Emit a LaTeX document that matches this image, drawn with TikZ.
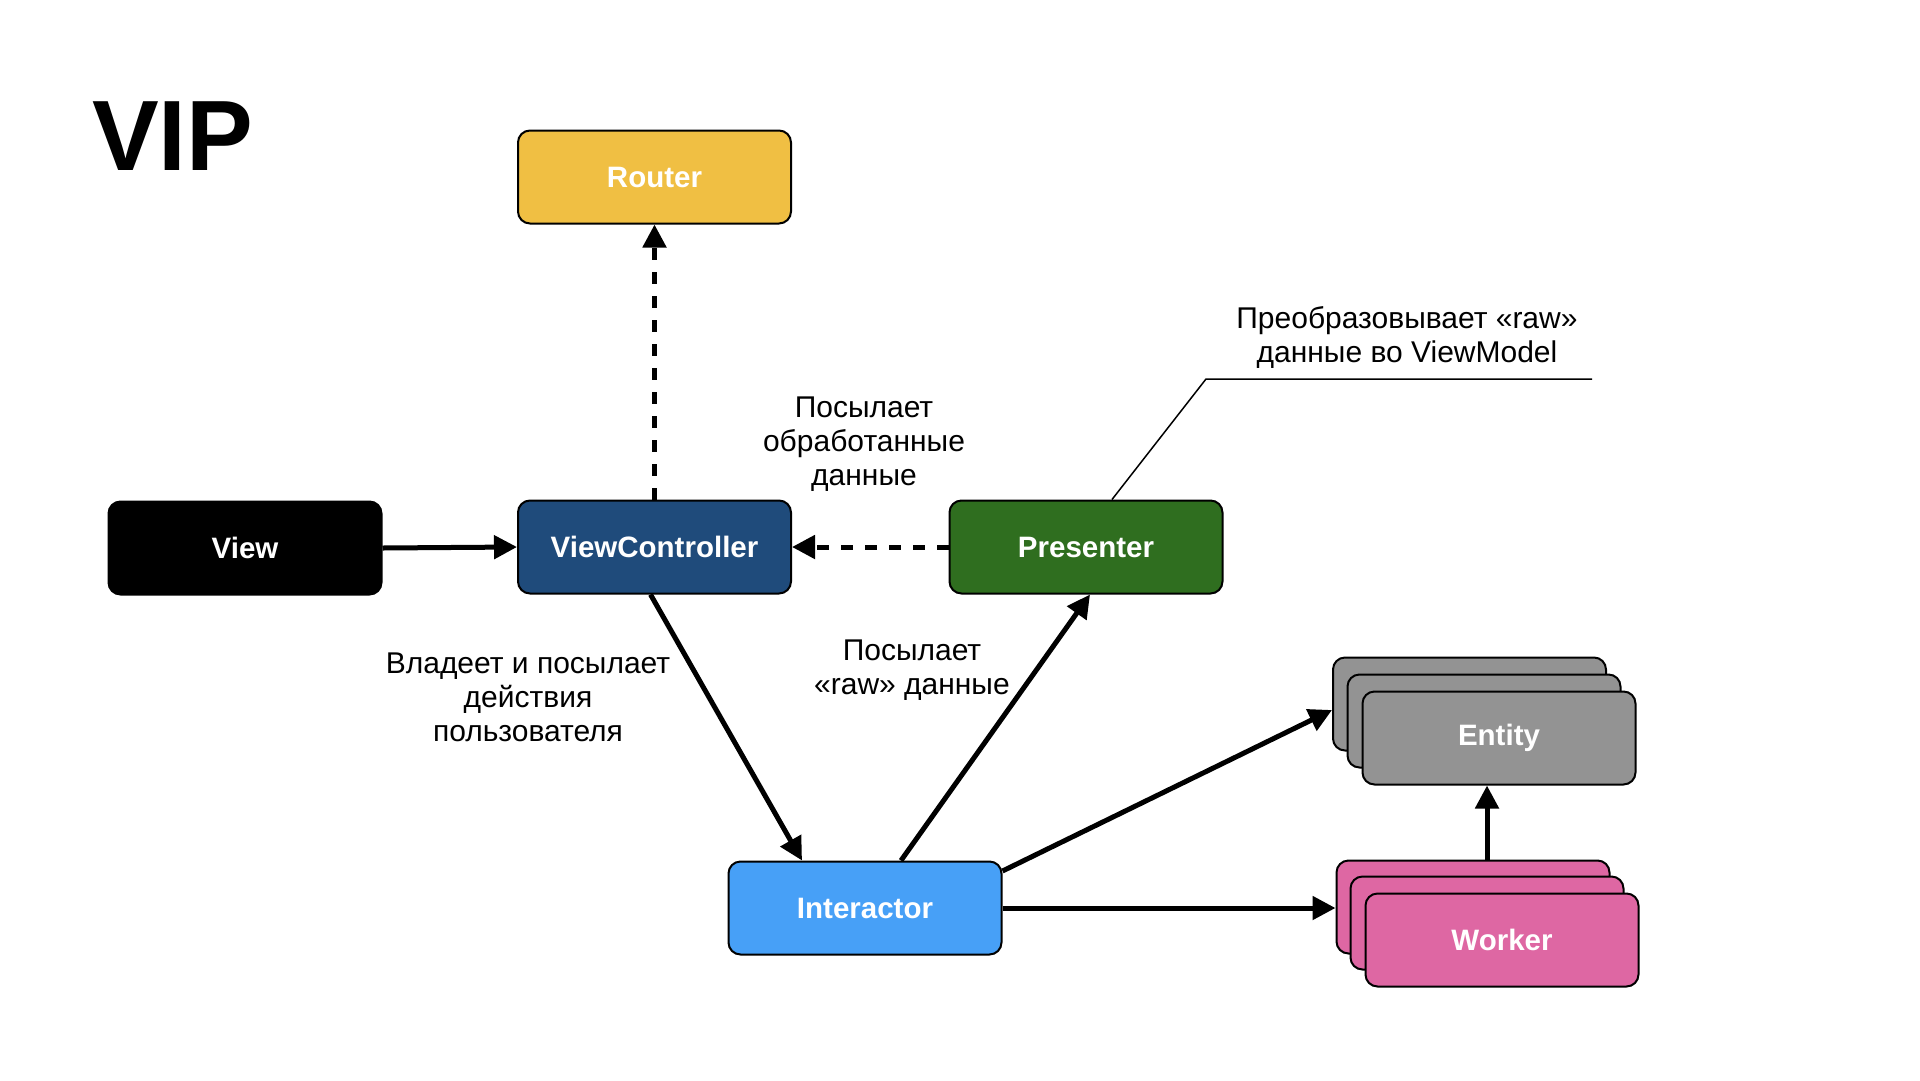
\documentclass[tikz,border=0pt]{standalone}
\usepackage{fontspec}
\setmainfont{Liberation Sans}
\usetikzlibrary{arrows.meta,calc}
\definecolor{crouter}{HTML}{F0BF43}
\definecolor{cvc}{HTML}{1F4B7B}
\definecolor{cpres}{HTML}{2F6E1F}
\definecolor{cinter}{HTML}{47A0F7}
\definecolor{centity}{HTML}{939393}
\definecolor{cworker}{HTML}{DE67A3}
\tikzset{
  box/.style={rectangle, rounded corners=12pt, draw=black, line width=2pt,
    minimum width=273pt, minimum height=93pt, inner sep=0pt, text=white,
    font=\fontsize{29.5}{35}\selectfont\bfseries},
  lbl/.style={align=center, inner sep=0pt, font=\fontsize{30}{34}\selectfont},
  arr/.style={line width=5pt, -{Triangle[length=23pt,width=23pt]}},
  darr/.style={arr, dash pattern=on 12pt off 12pt},
}
\begin{document}
\begin{tikzpicture}[x=1pt,y=-1pt]
\useasboundingbox[fill=white] (0,0) rectangle (1920,1080);
% title
\node[anchor=base west, inner sep=0pt, font=\fontsize{100}{110}\selectfont\bfseries] (title) at (92,170) {VIP};
% boxes
\node[box, fill=crouter] (router) at (654.5,177) {Router};
\node[box, fill=black] (view) at (245,548) {View};
\node[box, fill=cvc] (vc) at (654.5,547) {ViewController};
\node[box, fill=cpres] (pres) at (1086,547) {Presenter};
\node[box, fill=cinter] (inter) at (865,908) {Interactor};
\node[box, fill=centity] (entb) at (1469.5,704) {};
\node[box, fill=centity] (entm) at (1484,721) {};
\node[box, fill=centity] (ent) at (1499,738) {Entity};
\node[box, fill=cworker] (wrkb) at (1473,907) {};
\node[box, fill=cworker] (wrkm) at (1487,923) {};
\node[box, fill=cworker] (wrk) at (1502,940) {Worker};
% labels
\node[lbl] (l1) at (864,444) {Посылает\\обработанные\\данные};
\node[lbl] (l2) at (528,697) {Владеет и посылает\\действия\\пользователя};
\node[lbl] (l3) at (912,670) {Посылает\\«raw» данные};
\node[lbl] (l4) at (1407,337) {Преобразовывает «raw»\\данные во ViewModel};
% leader line
\coordinate (lk) at (1206,379);
\coordinate (le) at (1592,379);
\draw[line width=1.5pt] ([xshift=26pt]pres.north) -- (lk) -- (le);
% connectors
\draw[arr] (view.east) -- (vc.west);
\draw[darr] (vc.north) -- (router.south);
\draw[darr] (pres.west) -- (vc.east);
\draw[arr] ([xshift=-4pt]vc.south) -- ([xshift=-63pt]inter.north);
\draw[arr] ([xshift=36pt]inter.north) -- ([xshift=4pt]pres.south);
\draw[arr] ([yshift=37pt]inter.east) -- ([yshift=-6pt]entb.west);
\draw[arr] (inter.east) -- (inter.east -| wrkb.west);
\draw[arr] (wrkm.center |- wrkb.north) -- (wrkm.center |- ent.south);
\end{tikzpicture}
\end{document}
